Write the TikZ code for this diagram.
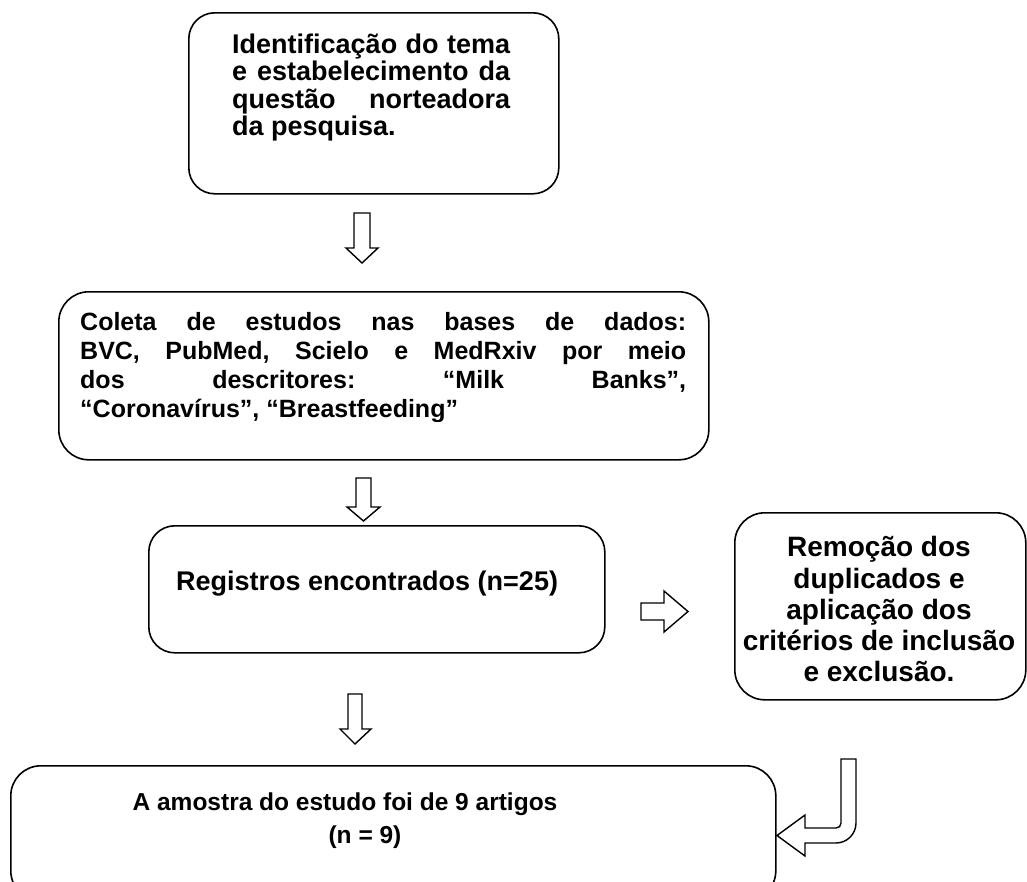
\documentclass[tikz,border=0pt]{standalone}
\usepackage{fontspec}
\setmainfont{Liberation Sans}
\begin{document}
\begin{tikzpicture}[x=1pt,y=-1pt,
  box/.style={draw, line width=1.6pt, rounded corners=#1, anchor=north west, inner sep=0pt},
  blk/.style={draw, line width=1.4pt, line join=miter, fill=white},
  txt/.style={inner sep=0pt, anchor=base west, font=\bfseries\fontsize{#1}{#1}\selectfont},
  ctxt/.style={inner sep=0pt, anchor=base, font=\bfseries\fontsize{#1}{#1}\selectfont}]
\useasboundingbox (0,0) rectangle (1027,881);
\fill[white] (0,0) rectangle (1027,881);
\clip (0,0) rectangle (1027,881);

% boxes
\node[box=26pt, minimum width=370pt, minimum height=181pt] (b1) at (188,12) {};
\node[box=30pt, minimum width=650pt, minimum height=168pt] (b2) at (58,291) {};
\node[box=26pt, minimum width=456pt, minimum height=127pt] (b3) at (148,525) {};
\node[box=30pt, minimum width=291pt, minimum height=187pt] (b4) at (734,512) {};
\node[box=30pt, minimum width=765pt, minimum height=135pt] (b5) at (10,765) {};

% top box text
\node[txt=27] (t1a) at (232,53) {\hbox to 278pt{Identificação\hfil do\hfil tema}};
\node[txt=27] (t1b) at (232,80.5) {\hbox to 278pt{e\hfil estabelecimento\hfil da}};
\node[txt=27] (t1c) at (232,108) {\hbox to 278pt{questão\hfil norteadora}};
\node[txt=27] (t1d) at (232,135.5) {da pesquisa.};

% coleta text
\node[txt=25] (t2a) at (80,330) {\hbox to 606pt{Coleta\hfil de\hfil estudos\hfil nas\hfil bases\hfil de\hfil dados:}};
\node[txt=25] (t2b) at (80,359) {\hbox to 606pt{BVC,\hfil PubMed,\hfil Scielo\hfil e\hfil MedRxiv\hfil por\hfil meio}};
\node[txt=25] (t2c) at (80,388) {\hbox to 606pt{dos\hfil descritores:\hfil “Milk\hfil Banks”,}};
\begin{scope}
\clip (58,291) rectangle (708,421);
\node[txt=25] (t2d) at (80,417) {“Coronavírus”, “Breastfeeding”};
\end{scope}

% registros text
\node[txt=27] (t3) at (176,590) {Registros encontrados (n=25)};

% remocao text
\node[ctxt=28] (t4a) at (879,556) {Remoção dos};
\node[ctxt=28] (t4b) at (879,588) {duplicados e};
\node[ctxt=28] (t4c) at (879,619) {aplicação dos};
\node[ctxt=28] (t4d) at (879,650) {critérios de inclusão};
\node[ctxt=28] (t4e) at (879,681) {e exclusão.};

% bottom text
\node[ctxt=24.5] (t5a) at (345,810) {A amostra do estudo foi de 9 artigos};
\node[ctxt=24.5] (t5b) at (365,843) {(n = 9)};

% block arrows
\draw[blk] (354,213) -- (370,213) -- (370,248) -- (378,248) -- (362,263) -- (346,248) -- (354,248) -- cycle;
\draw[blk] (356,478) -- (371,478) -- (371,507) -- (380,507) -- (363.5,521) -- (347,507) -- (356,507) -- cycle;
\draw[blk] (348,694) -- (362,694) -- (362,729) -- (371,729) -- (355,744) -- (340,729) -- (348,729) -- cycle;
\draw[blk] (641,603) -- (664,603) -- (664,591) -- (688,611.5) -- (664,632) -- (664,620) -- (641,620) -- cycle;
% hook arrow
\draw[blk] (841,759) -- (856,759) -- (856,823) .. controls (856,834) and (847,843) .. (836,843)
  -- (805,843) -- (805,856) -- (777,835.5) -- (805,815) -- (805,828) -- (836,828)
  .. controls (839,828) and (841,826) .. (841,823) -- cycle;
\end{tikzpicture}
\end{document}
